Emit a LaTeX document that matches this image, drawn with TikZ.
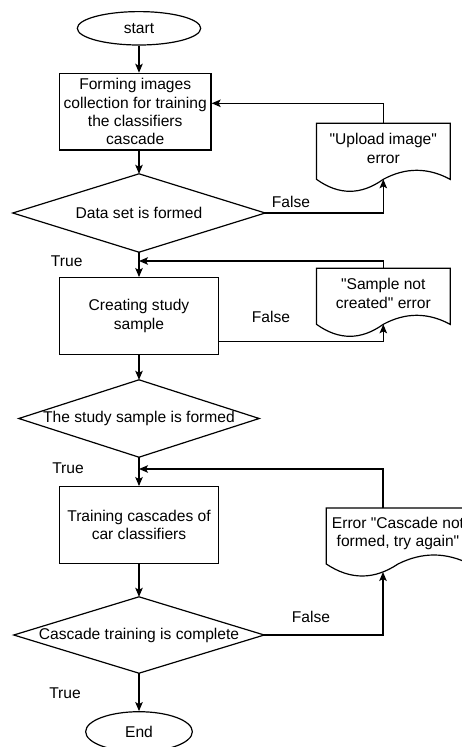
\documentclass[tikz,border=0pt]{standalone}
\usepackage{fontspec}
\setmainfont{Liberation Sans}[Ligatures=TeXOff]
\usetikzlibrary{calc,arrows.meta,shapes.geometric}

% Document symbol: straight top and sides, wavy bottom edge
\newcommand\docoutline[1]{%
  \draw[line] (#1.north west) -- (#1.north east)
    -- ($(#1.north east)+(0,56)$)
    .. controls ($(#1.north west)!0.8333!(#1.north east)+(0,44)$)
            and ($(#1.north west)!0.6667!(#1.north east)+(0,44)$)
    .. ($(#1.north)+(0,56)$)
    .. controls ($(#1.north west)!0.3333!(#1.north east)+(0,72)$)
            and ($(#1.north west)!0.1667!(#1.north east)+(0,72)$)
    .. ($(#1.north west)+(0,56)$)
    -- cycle;}

\begin{document}
\begin{tikzpicture}[x=1pt,y=-1pt,
  every node/.style={font=\fontsize{15.6}{18.3}\selectfont, inner sep=0pt, align=center},
  line/.style={draw=black, line width=1.2pt},
  arr/.style={line, -{Stealth[length=9pt,width=7.5pt,inset=2pt]}},
  terminal/.style={line, ellipse},
  process/.style={line, rectangle, minimum height=76.7pt},
  decision/.style={rectangle},
  document/.style={rectangle, anchor=north, minimum height=50pt},
  lbl/.style={}]

\useasboundingbox (0,0) rectangle (462,747);
\fill[white] (0,0) rectangle (462,747);
\clip (0,0) rectangle (462,747);

% main column
\node[terminal, minimum width=123.4pt, minimum height=33.4pt] (start) at (139,28.3) {start};
\node[process, minimum width=151.7pt] (b1) at (135.2,111.7)
  {Forming images\\collection for training\\the classifiers\\cascade};
\node[decision, minimum width=252pt, minimum height=78pt] (d1) at (139,213) {Data set is formed};
\node[process, minimum width=159pt] (b2) at (139,316) {Creating study\\sample};
\node[decision, minimum width=240pt, minimum height=77pt] (d2) at (139,418.5) {The study sample is formed};
\node[process, minimum width=159pt] (b3) at (139,525) {Training cascades of\\car classifiers};
\node[decision, minimum width=250pt, minimum height=76pt] (d3) at (139,635) {Cascade training is complete};
\node[terminal, minimum width=106.7pt, minimum height=40pt] (end) at (139,731.7) {End};

\foreach \d in {d1,d2,d3}
  \draw[line] (\d.north) -- (\d.east) -- (\d.south) -- (\d.west) -- cycle;

% error documents
\node[document, minimum width=133.3pt] (u1) at (383.3,123.3) {"Upload image"\\error};
\node[document, minimum width=133.3pt] (u2) at (383.3,268.3) {"Sample not\\created" error};
\node[document, minimum width=143pt] (u3) at (398,508) {Error "Cascade not\\formed, try again"};
\docoutline{u1}
\docoutline{u2}
\docoutline{u3}

% branch labels
\node[lbl] (t1) at (66.7,261) {True};
\node[lbl] (f1) at (291,202) {False};
\node[lbl] (t2) at (68,468) {True};
\node[lbl] (f2) at (271,317) {False};
\node[lbl] (t3) at (65,693) {True};
\node[lbl] (f3) at (311,617) {False};

% connector end points
\coordinate (w1) at ($(u1.north)+(0,56)$);
\coordinate (w2) at ($(u2.north)+(0,56)$);
\coordinate (w3) at (383,572);
\coordinate (j1) at (139,261);
\coordinate (j2) at (139,469);

% main flow
\draw[arr] (start.south) -- (start.south |- b1.north);
\draw[arr] (b1.south -| d1.north) -- (d1.north);
\draw[arr] (d1.south) -- (b2.north);
\draw[arr] (b2.south) -- (d2.north);
\draw[arr] (d2.south) -- (b3.north);
\draw[arr] (b3.south) -- (d3.north);
\draw[arr] (d3.south) -- (end.north);

% error branches and returns
\draw[arr] (d1.east) -| (w1);
\draw[arr] (u1.north) |- ([yshift=8.4pt]b1.east);
\draw[arr] ([yshift=-25.7pt]b2.east) -| (w2);
\draw[arr] (u2.north) |- (j1);
\draw[arr] (d3.east) -| (w3);
\draw[arr] (u3.north -| w3) |- (j2);
\end{tikzpicture}
\end{document}
